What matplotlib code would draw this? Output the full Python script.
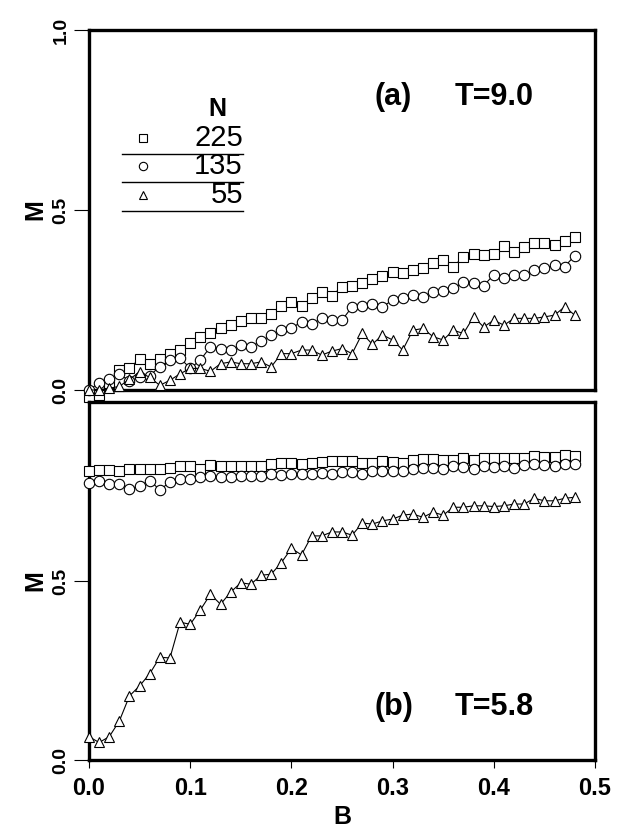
import numpy as np
import matplotlib
matplotlib.use("Agg")
import matplotlib.pyplot as plt

plt.rcParams['font.family'] = ['Liberation Sans', 'DejaVu Sans']
plt.rcParams['font.weight'] = 'bold'

# field values B = 0.00 ... 0.48
B = np.arange(49) * 0.01

# panel (a) T=9.0
a_225 = [-0.02, -0.015, 0.02, 0.055, 0.06, 0.087, 0.073, 0.087, 0.10, 0.11,
         0.13, 0.148, 0.157, 0.171, 0.18, 0.191, 0.20, 0.20, 0.21, 0.234,
         0.245, 0.234, 0.256, 0.273, 0.262, 0.287, 0.29, 0.296, 0.308, 0.318,
         0.329, 0.324, 0.333, 0.338, 0.352, 0.361, 0.343, 0.37, 0.377, 0.375,
         0.377, 0.40, 0.383, 0.398, 0.408, 0.408, 0.403, 0.414, 0.426]
a_135 = [0.0, 0.02, 0.03, 0.045, 0.025, 0.035, 0.04, 0.065, 0.083, 0.089,
         0.06, 0.083, 0.12, 0.115, 0.11, 0.124, 0.12, 0.136, 0.152, 0.166,
         0.171, 0.19, 0.182, 0.20, 0.194, 0.194, 0.231, 0.234, 0.24, 0.231,
         0.25, 0.256, 0.264, 0.259, 0.273, 0.275, 0.282, 0.30, 0.296, 0.29,
         0.32, 0.312, 0.32, 0.32, 0.333, 0.338, 0.347, 0.343, 0.373]
a_55 = [0.0, 0.0, 0.005, 0.01, 0.03, 0.05, 0.035, 0.013, 0.027, 0.045,
        0.06, 0.06, 0.052, 0.073, 0.078, 0.073, 0.073, 0.078, 0.064, 0.101,
        0.101, 0.111, 0.111, 0.097, 0.108, 0.115, 0.101, 0.157, 0.127, 0.153,
        0.139, 0.111, 0.166, 0.171, 0.148, 0.139, 0.166, 0.157, 0.203, 0.175,
        0.194, 0.18, 0.199, 0.199, 0.199, 0.203, 0.208, 0.231, 0.208]

# panel (b) T=5.8
b_225 = [0.808, 0.81, 0.81, 0.807, 0.813, 0.813, 0.813, 0.813, 0.816, 0.82,
         0.82, 0.813, 0.824, 0.82, 0.82, 0.822, 0.822, 0.822, 0.827, 0.83,
         0.83, 0.827, 0.83, 0.832, 0.834, 0.835, 0.834, 0.83, 0.83, 0.834,
         0.832, 0.83, 0.838, 0.841, 0.841, 0.838, 0.839, 0.844, 0.839, 0.844,
         0.844, 0.844, 0.844, 0.844, 0.85, 0.846, 0.846, 0.853, 0.85]
b_135 = [0.773, 0.78, 0.771, 0.771, 0.757, 0.766, 0.78, 0.755, 0.776, 0.785,
         0.785, 0.79, 0.793, 0.79, 0.79, 0.793, 0.794, 0.793, 0.799, 0.797,
         0.799, 0.799, 0.799, 0.802, 0.799, 0.804, 0.804, 0.799, 0.808, 0.808,
         0.808, 0.808, 0.813, 0.815, 0.816, 0.813, 0.821, 0.818, 0.813, 0.822,
         0.818, 0.821, 0.815, 0.824, 0.827, 0.824, 0.822, 0.827, 0.827]
b_55 = [0.065, 0.049, 0.065, 0.109, 0.179, 0.207, 0.241, 0.287, 0.285, 0.385,
        0.379, 0.419, 0.463, 0.435, 0.469, 0.495, 0.491, 0.516, 0.519, 0.551,
        0.591, 0.573, 0.626, 0.626, 0.637, 0.637, 0.628, 0.662, 0.659, 0.668,
        0.673, 0.684, 0.687, 0.678, 0.692, 0.684, 0.706, 0.706, 0.71, 0.71,
        0.708, 0.71, 0.715, 0.715, 0.731, 0.724, 0.724, 0.731, 0.734]

sizes = ['225', '135', '55']
markers = ['s', 'o', '^']

fig = plt.figure(figsize=(6.31, 8.34), dpi=100)
ax1 = fig.add_axes([89/631, 1 - 390/834, 506/631, 360/834])
ax2 = fig.add_axes([89/631, 1 - 760/834, 506/631, 358/834])


def draw(ax, series, yt):
    for ys, m in zip(series, markers):
        ax.plot(B, ys, color='black', lw=0.8, marker=m, ms=7 if m != 'o' else 7.5,
                mfc='white', mec='black', mew=0.8, clip_on=False, zorder=3)
    ax.set_xlim(0, 0.5)
    ax.set_ylim(0, 1.0)
    for s in ax.spines.values():
        s.set_linewidth(2.4)
    ax.set_yticks(yt)
    ax.set_yticklabels(['%.1f' % v for v in yt], rotation=90, va='center',
                       fontsize=14, fontweight='bold')
    ax.tick_params(axis='y', direction='out', length=11, width=0.8, pad=3)
    ax.set_ylabel('M', fontsize=18, fontweight='bold', labelpad=4)


draw(ax1, [a_225, a_135, a_55], [0.0, 0.5, 1.0])
draw(ax2, [b_225, b_135, b_55], [0.0, 0.5])

ax1.set_xticks([])
ax2.set_xticks([0.0, 0.1, 0.2, 0.3, 0.4, 0.5])
ax2.set_xticklabels(['0.0', '0.1', '0.2', '0.3', '0.4', '0.5'],
                    fontsize=17, fontweight='bold')
ax2.tick_params(axis='x', direction='out', length=6, width=0.8, pad=6)
ax2.set_xlabel('B', fontsize=18, fontweight='bold', labelpad=4)

ax1.text(0.565, 0.814, '(a)', transform=ax1.transAxes, fontsize=22,
         fontweight='bold', va='center')
ax1.text(0.723, 0.814, 'T=9.0', transform=ax1.transAxes, fontsize=22,
         fontweight='bold', va='center')
ax2.text(0.565, 0.148, '(b)', transform=ax2.transAxes, fontsize=22,
         fontweight='bold', va='center')
ax2.text(0.723, 0.148, 'T=5.8', transform=ax2.transAxes, fontsize=22,
         fontweight='bold', va='center')

# hand-made legend box in panel (a)
ax1.text(0.253, 0.78, 'N', transform=ax1.transAxes, fontsize=18,
         fontweight='bold', ha='center', va='center')
for k, (lab, m) in enumerate(zip(sizes, markers)):
    yy = 0.70 - k * 0.079
    ax1.plot([0.107], [yy], transform=ax1.transAxes, marker=m, ms=6,
             mfc='white', mec='black', mew=0.8, ls='none')
    ax1.text(0.304, yy, lab, transform=ax1.transAxes, fontsize=21,
             fontweight='normal', ha='right', va='center')
    ax1.plot([0.065, 0.304], [yy - 0.044, yy - 0.044], transform=ax1.transAxes,
             color='black', lw=1.0)

fig.savefig('out.png', dpi=100)
